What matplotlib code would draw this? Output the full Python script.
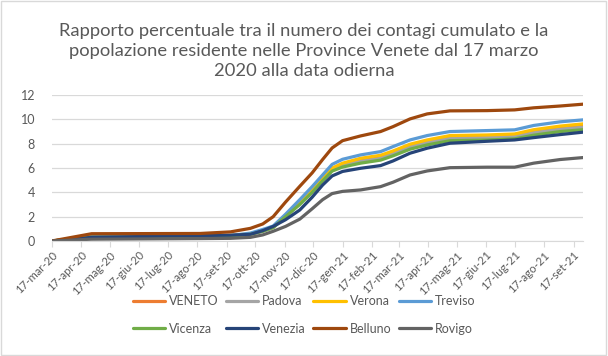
import numpy as np
import pandas as pd
import matplotlib
matplotlib.use("Agg")
import matplotlib.pyplot as plt
from matplotlib.patches import Rectangle

# date campione
dates = ["2020-03-17", "2020-04-28", "2020-08-20", "2020-09-21", "2020-10-12",
         "2020-10-25", "2020-11-05", "2020-11-18", "2020-12-03", "2020-12-16",
         "2020-12-27", "2021-01-06", "2021-01-17", "2021-02-05", "2021-02-26",
         "2021-03-11", "2021-03-29", "2021-04-16", "2021-05-10", "2021-06-18",
         "2021-07-17", "2021-08-06", "2021-09-03", "2021-09-27"]

veneto  = [0, 0.30, 0.35, 0.40, 0.58, 0.85, 1.15, 2.05, 3.15, 4.15, 5.10, 5.85,
           6.30, 6.65, 6.90, 7.30, 7.85, 8.20, 8.55, 8.62, 8.70, 9.00, 9.30, 9.45]
padova  = [0, 0.30, 0.35, 0.40, 0.55, 0.80, 1.10, 2.00, 3.10, 4.05, 5.00, 5.80,
           6.20, 6.55, 6.80, 7.20, 7.75, 8.10, 8.45, 8.50, 8.60, 8.90, 9.20, 9.35]
verona  = [0, 0.40, 0.42, 0.45, 0.60, 0.85, 1.15, 2.10, 3.20, 4.20, 5.20, 6.00,
           6.40, 6.80, 7.05, 7.40, 7.96, 8.31, 8.67, 8.72, 8.80, 9.15, 9.45, 9.63]
treviso = [0, 0.35, 0.40, 0.45, 0.65, 0.95, 1.23, 2.20, 3.40, 4.47, 5.43, 6.30,
           6.72, 7.08, 7.35, 7.76, 8.31, 8.67, 9.00, 9.08, 9.14, 9.50, 9.80, 9.96]
vicenza = [0, 0.30, 0.35, 0.40, 0.55, 0.80, 1.10, 2.00, 3.00, 4.00, 4.95, 5.75,
           6.08, 6.40, 6.65, 7.00, 7.55, 7.90, 8.25, 8.30, 8.40, 8.70, 9.00, 9.15]
venezia = [0, 0.30, 0.45, 0.48, 0.55, 0.85, 1.20, 1.75, 2.55, 3.60, 4.60, 5.35,
           5.72, 5.98, 6.20, 6.58, 7.22, 7.63, 8.04, 8.20, 8.31, 8.50, 8.75, 8.95]
belluno = [0, 0.60, 0.62, 0.75, 1.04, 1.40, 2.00, 3.20, 4.50, 5.60, 6.70, 7.65,
           8.25, 8.64, 9.00, 9.40, 10.04, 10.45, 10.70, 10.72, 10.78, 10.95, 11.10, 11.25]
rovigo  = [0, 0.15, 0.20, 0.22, 0.30, 0.50, 0.80, 1.20, 1.80, 2.65, 3.40, 3.90,
           4.08, 4.20, 4.47, 4.83, 5.43, 5.76, 6.03, 6.07, 6.07, 6.40, 6.70, 6.86]

names = ["VENETO", "Padova", "Verona", "Treviso", "Vicenza", "Venezia", "Belluno", "Rovigo"]
colors = ["#ED7D31", "#A5A5A5", "#FFC000", "#5B9BD5", "#70AD47", "#264478", "#9E480E", "#636363"]
series = [veneto, padova, verona, treviso, vicenza, venezia, belluno, rovigo]

mesi = ["gen", "feb", "mar", "apr", "mag", "giu", "lug", "ago", "set", "ott", "nov", "dic"]
tick_dates = pd.date_range("2020-03-01", "2021-09-01", freq="MS") + pd.Timedelta(days=16)
tick_labels = [f"17-{mesi[d.month-1]}-{d.year % 100}" for d in tick_dates]

x = pd.to_datetime(dates)
txt = "#595959"
grid = "#D9D9D9"

plt.rcParams['font.family'] = ['Lato', 'DejaVu Sans']

fig = plt.figure(figsize=(6.08, 3.56), dpi=100)
ax = fig.add_axes([0.085, 0.323, 0.874, 0.410])

lines = []
for nome, col, val in zip(names, colors, series):
    l, = ax.plot(x, val, color=col, lw=2.3, label=nome, solid_capstyle="round")
    lines.append(l)

ax.set_ylim(0, 12)
ax.set_yticks(np.arange(0, 13, 2))
ax.set_xlim(pd.Timestamp("2020-03-17"), pd.Timestamp("2021-09-27"))
ax.set_xticks(tick_dates)
ax.set_xticklabels(tick_labels, rotation=45, ha="right", rotation_mode="anchor")
ax.tick_params(axis="x", colors=grid, labelcolor=txt, labelsize=8.2, length=4, pad=2)
ax.tick_params(axis="y", length=0, labelcolor=txt, labelsize=9, pad=12)
ax.grid(axis="y", color=grid, lw=0.9)
ax.set_axisbelow(True)
for s in ["top", "right", "left"]:
    ax.spines[s].set_visible(False)
ax.spines["bottom"].set_color(grid)

fig.text(0.5, 0.857, "Rapporto percentuale tra il numero dei contagi cumulato e la\n"
         "popolazione residente nelle Province Venete dal 17 marzo\n2020 alla data odierna",
         ha="center", va="center", fontsize=13.2, color=txt, linespacing=1.3)

# legenda riga per riga (ncol riempie per colonne)
order = [0, 4, 1, 5, 2, 6, 3, 7]
fig.legend([lines[i] for i in order], [names[i] for i in order],
           loc="center", bbox_to_anchor=(0.5, 0.116), ncol=4, frameon=False,
           fontsize=9, labelcolor=txt, handlelength=2.6, handletextpad=0.3,
           columnspacing=0.6, labelspacing=1.25)

fig.patches.append(Rectangle((0.002, 0.003), 0.995, 0.993, transform=fig.transFigure,
                             fill=False, edgecolor=grid, lw=1))

fig.savefig("out.png", dpi=100)
